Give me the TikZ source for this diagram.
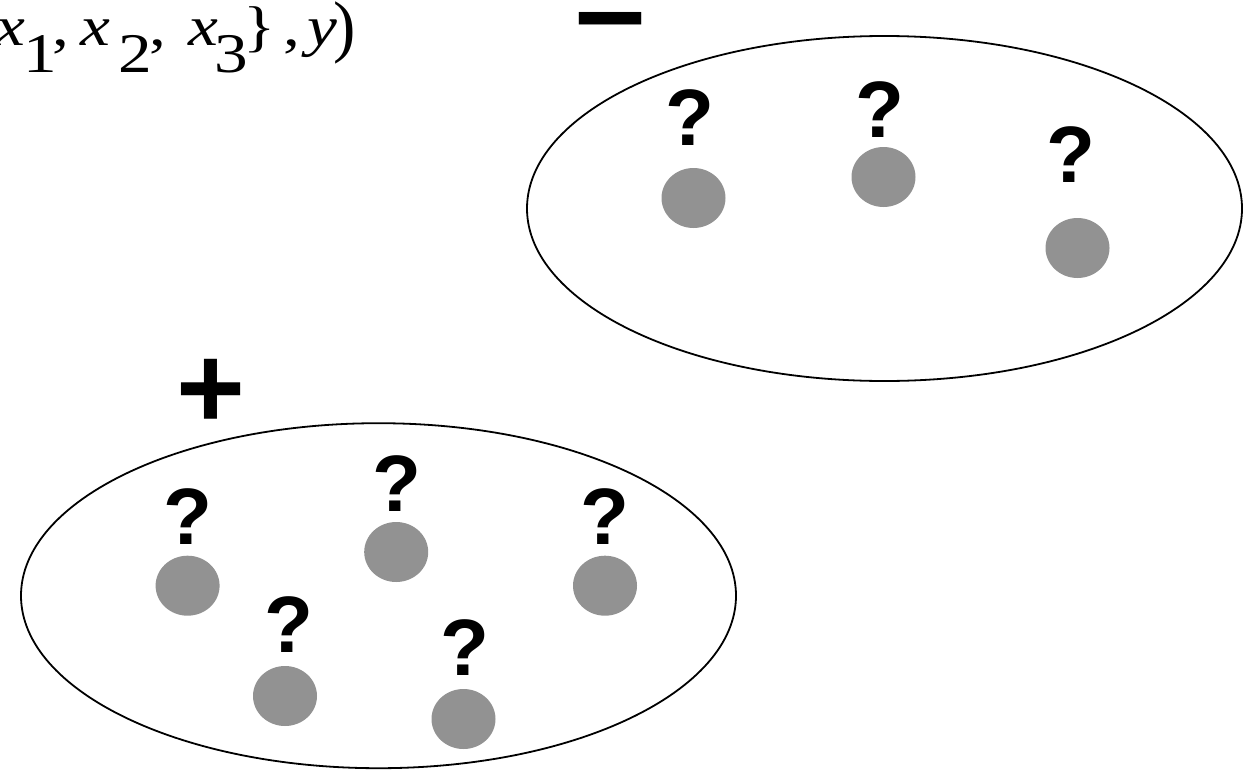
\documentclass[tikz,border=0pt]{standalone}
\usepackage{fontspec}
\usepackage{graphicx}
\setmainfont{Liberation Serif}
\newfontfamily\qfam{Liberation Sans}
\usetikzlibrary{shapes.geometric}
\definecolor{dotgray}{RGB}{146,146,146}
\tikzset{
  setbox/.style={draw=black, line width=1.8pt, ellipse, minimum width=715pt, minimum height=345pt, inner sep=0pt},
  dot/.style={ellipse, fill=dotgray, minimum width=64pt, minimum height=60pt, inner sep=0pt},
  qm/.style={anchor=base, inner sep=0pt, font=\qfam\bfseries\fontsize{80}{80}\selectfont},
  signmark/.style={anchor=base, inner sep=0pt},
}
\newcommand{\lowsub}[1]{\raisebox{-27pt}{#1}}
\begin{document}
\begin{tikzpicture}[x=1pt,y=-1pt]
\useasboundingbox (0,0) rectangle (1247,771);
\begin{scope}
\clip (0,0) rectangle (1247,771);
\node[anchor=base west, inner sep=0pt, xscale=1.2, font=\fontsize{56}{56}\selectfont] (title) at (-5,45)
  {\textit{x}\hspace{-1.5pt}\lowsub{1}\hspace{-4pt},\hspace{9.8pt}\textit{x}\hspace{6.8pt}\lowsub{2}\hspace{-2pt},\hspace{18.4pt}\textit{x}\hspace{-3pt}\lowsub{3}\hspace{-3.8pt}\}\hspace{6.3pt},\hspace{6pt}\textit{y}\hspace{-3.5pt}\raisebox{-4.6pt}{\scalebox{1}[1.23]{)}}};
\end{scope}

% sets
\node[setbox] (neg) at (884.5,208.5) {};
\node[setbox] (pos) at (378.5,595.7) {};

% signs
\node[signmark, font=\qfam\bfseries\fontsize{126}{126}\selectfont] (minus) at (610.7,52.3) {–};
\node[signmark, font=\qfam\bfseries\fontsize{118}{118}\selectfont] (plus) at (211,428) {+};

% negative set
\node[dot] (n1) at (693.5,198) {};
\node[dot] (n2) at (883.5,177) {};
\node[dot] (n3) at (1077.5,248) {};
\node[qm] (qn1) at (690,145) {?};
\node[qm] (qn2) at (880,137) {?};
\node[qm] (qn3) at (1070.5,182) {?};

% positive set
\node[dot] (p1) at (187.6,585.7) {};
\node[dot] (p2) at (396.2,552) {};
\node[dot] (p3) at (605,585.7) {};
\node[dot] (p4) at (285,696) {};
\node[dot] (p5) at (463.5,719) {};
\node[qm] (qp1) at (188,544) {?};
\node[qm] (qp2) at (397,511) {?};
\node[qm] (qp3) at (604.5,544) {?};
\node[qm] (qp4) at (289,652) {?};
\node[qm] (qp5) at (464.8,675) {?};
\end{tikzpicture}
\end{document}
